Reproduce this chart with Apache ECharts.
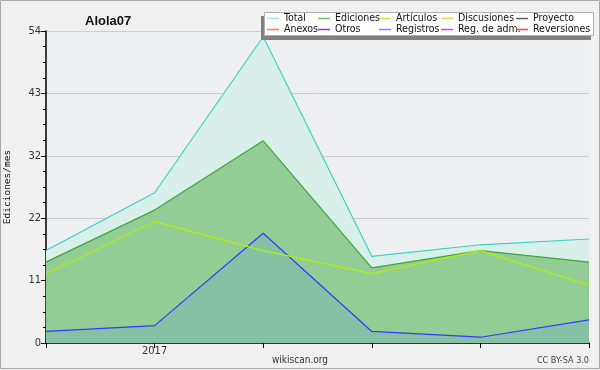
<!DOCTYPE html>
<html>
<head>
<meta charset="utf-8">
<script src="https://cdn.jsdelivr.net/npm/echarts@6/dist/echarts.min.js"></script>
<style>
html,body{margin:0;padding:0;background:#f0f0f0;}
#c{width:600px;height:370px;}
</style>
</head>
<body>
<div id="c"></div>
<script>
// ---- data ----
var months = ["2016-12", "2017-01", "2017-02", "2017-03", "2017-04", "2017-05"];
var xTickLabels = ["", "2017", "", "", "", ""];
var total = [16, 26, 53, 15, 17, 18];
var ediciones = [14, 23, 35, 13, 16, 14];
var articulos = [12, 21, 16, 12, 16, 10];
var registros = [2, 3, 19, 2, 1, 4];
var discusiones = [];
var proyecto = [];
var anexos = [];
var otros = [];
var regAdm = [];
var reversiones = [];
var yMax = 54;
var yStep = 10.8;

var legendCols = [
  ["Total", "Anexos"],
  ["Ediciones", "Otros"],
  ["Artículos", "Registros"],
  ["Discusiones", "Reg. de adm."],
  ["Proyecto", "Reversiones"]
];
var legendColors = {
  "Total": "#a6e8e0", "Ediciones": "#6cc06c", "Artículos": "#c8f040",
  "Discusiones": "#ffd040", "Proyecto": "#606060", "Anexos": "#ff8040",
  "Otros": "#8040e8", "Registros": "#7a86ff", "Reg. de adm.": "#e040f0",
  "Reversiones": "#ff3a3a"
};
var legendLeft = [267, 318, 379, 441, 516];

var narrow = "'Liberation Sans Narrow', 'DejaVu Sans Condensed', sans-serif";
var chart = echarts.init(document.getElementById('c'), null, {renderer: 'canvas'});

var legends = legendCols.map(function (col, i) {
  return {
    orient: 'vertical',
    left: legendLeft[i],
    top: 13,
    padding: 0,
    itemGap: 0,
    itemWidth: 12,
    itemHeight: 1.5,
    icon: 'rect',
    selectedMode: false,
    z: 110,
    data: col.map(function (n) {
      return {name: n, itemStyle: {color: legendColors[n]}, lineStyle: {color: legendColors[n]}};
    }),
    textStyle: {fontFamily: narrow, fontSize: 10.5, color: '#111', lineHeight: 11, padding: [0, 0, 0, 0]}
  };
});

function lineSeries(name, data, color, areaColor, z) {
  var s = {
    name: name, type: 'line', data: data, symbol: 'none', silent: true,
    lineStyle: {color: color, width: 1.2},
    itemStyle: {color: color},
    z: z
  };
  if (areaColor) s.areaStyle = {color: areaColor, opacity: 1};
  return s;
}

var option = {
  backgroundColor: '#f0f0f0',
  animation: false,
  title: {
    text: 'Alola07', left: 80, top: 10,
    textStyle: {fontFamily: 'Liberation Sans', fontSize: 13, fontWeight: 'bold', color: '#111'}
  },
  legend: legends,
  grid: {left: 46, right: 11, top: 31, bottom: 27, show: true, backgroundColor: '#eeeff1', borderWidth: 0,
         outerBoundsMode: 'none', containLabel: false},
  xAxis: {
    type: 'category', data: months, boundaryGap: false,
    axisLine: {lineStyle: {color: '#000', width: 1.5}},
    axisTick: {show: true, length: 5, lineStyle: {color: '#000'}, interval: 0},
    axisLabel: {
      interval: 0, margin: 3, color: '#333', fontFamily: narrow, fontSize: 11,
      formatter: function (v, i) { return xTickLabels[i]; }
    },
    splitLine: {show: false}
  },
  yAxis: {
    type: 'value', min: 0, max: yMax, interval: yStep,
    name: 'Ediciones/mes', nameLocation: 'middle', nameGap: 33, nameRotate: 90,
    nameTextStyle: {fontFamily: 'DejaVu Sans Mono', fontSize: 9.5, color: '#111'},
    axisLine: {show: true, lineStyle: {color: '#000', width: 1.5}},
    axisTick: {show: true, length: 5, lineStyle: {color: '#000'}},
    minorTick: {show: true, splitNumber: 4, length: 3, lineStyle: {color: '#000'}},
    axisLabel: {
      margin: 5, color: '#333', fontFamily: narrow, fontSize: 11,
      formatter: function (v) { return String(Math.round(v)); }
    },
    splitLine: {show: true, lineStyle: {color: '#cdcdcd', width: 1}}
  },
  series: [
    lineSeries('Total', total, '#3cd0c4', '#d9f0ea', 2),
    lineSeries('Ediciones', ediciones, '#3da63d', '#93cc95', 3),
    lineSeries('Registros', registros, '#2f3cff', '#86c0a5', 4),
    lineSeries('Artículos', articulos, '#b4f000', null, 5),
    lineSeries('Discusiones', discusiones, legendColors['Discusiones'], null, 1),
    lineSeries('Proyecto', proyecto, legendColors['Proyecto'], null, 1),
    lineSeries('Anexos', anexos, legendColors['Anexos'], null, 1),
    lineSeries('Otros', otros, legendColors['Otros'], null, 1),
    lineSeries('Reg. de adm.', regAdm, legendColors['Reg. de adm.'], null, 1),
    lineSeries('Reversiones', reversiones, legendColors['Reversiones'], null, 1)
  ],
  graphic: [
    {type: 'rect', shape: {x: 0.5, y: 0.5, width: 599, height: 368}, style: {fill: 'none', stroke: '#aaaaaa', lineWidth: 1}, z: 100, silent: true},
    {type: 'rect', shape: {x: 261, y: 16, width: 330, height: 24}, style: {fill: '#808080'}, z: 100, silent: true},
    {type: 'rect', shape: {x: 264.5, y: 12.5, width: 329, height: 23}, style: {fill: '#ffffff', stroke: '#b0b0b0', lineWidth: 1}, z: 101, silent: true},
    {type: 'text', x: 300, y: 355, style: {text: 'wikiscan.org', align: 'center', fontFamily: narrow, fontSize: 10, fill: '#333'}, z: 100, silent: true},
    {type: 'text', x: 589, y: 356, style: {text: 'CC BY-SA 3.0', align: 'right', fontFamily: narrow, fontSize: 9, fill: '#444'}, z: 100, silent: true}
  ]
};
chart.setOption(option);
</script>
</body>
</html>
